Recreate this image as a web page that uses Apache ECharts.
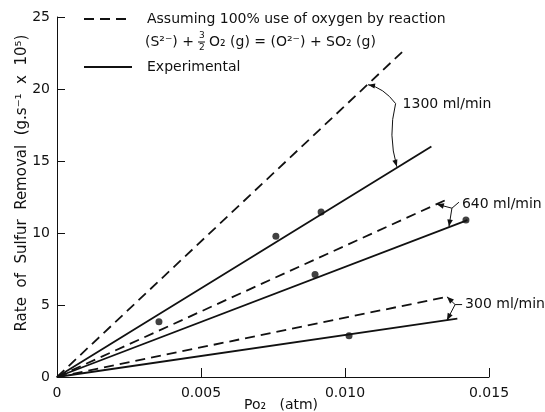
<!DOCTYPE html>
<html>
<head>
<meta charset="utf-8">
<script src="https://cdn.jsdelivr.net/npm/echarts@6/dist/echarts.min.js"></script>
<style>
  html, body { margin: 0; padding: 0; background: #fff; }
  #chart { width: 545px; height: 412px; }
</style>
</head>
<body>
<div id="chart"></div>
<script>
// Sulfur removal rate versus oxygen partial pressure, three gas flow rates.
const xTicks = [0, 0.005, 0.010, 0.015];
const yTicks = [0, 5, 10, 15, 20, 25];

// Theoretical lines (100% use of oxygen), [Po2, rate] end points
const theory1300X = [0, 0.0120];
const theory1300Y = [0, 22.6];
const theory640X = [0, 0.01365];
const theory640Y = [0, 12.43];
const theory300X = [0, 0.01358];
const theory300Y = [0, 5.59];

// Experimental fitted lines
const exp1300X = [0, 0.0130];
const exp1300Y = [0, 16.0];
const exp640X = [0, 0.01425];
const exp640Y = [0, 10.9];
const exp300X = [0, 0.0139];
const exp300Y = [0, 4.05];

// Measured points
const pts1300X = [0.00354, 0.0076, 0.00917];
const pts1300Y = [3.84, 9.78, 11.45];
const pts640X = [0.00896, 0.0142];
const pts640Y = [7.12, 10.9];
const pts300X = [0.01014];
const pts300Y = [2.86];

// Flow-rate callouts: label anchor, theoretical-line target, experimental-line target
const flowLabels = ['1300 ml/min', '640 ml/min', '300 ml/min'];
const labelAt = [[0.0120, 18.92], [0.01406, 12.0], [0.01417, 5.03]];
const theoryTarget = [[0.0108, 20.3], [0.01319, 12.0], [0.01354, 5.57]];
const expTarget = [[0.0118, 14.6], [0.01361, 10.45], [0.01354, 3.94]];

const FONT = 'DejaVu Sans';
const INK = '#111';

const zip = (xs, ys) => xs.map((x, i) => [x, ys[i]]);

function lineSeries(xs, ys, dashed) {
  return {
    type: 'line', data: zip(xs, ys), showSymbol: false, silent: true,
    lineStyle: { color: INK, width: 1.8, type: dashed ? [10, 6] : 'solid' },
    animation: false
  };
}
function pointSeries(xs, ys) {
  return {
    type: 'scatter', data: zip(xs, ys), symbol: 'circle', symbolSize: 7,
    itemStyle: { color: INK }, silent: true, animation: false
  };
}

const chart = echarts.init(document.getElementById('chart'), null, { renderer: 'canvas' });

chart.setOption({
  animation: false,
  backgroundColor: '#fff',
  grid: { left: 57, right: 56, top: 17, bottom: 35, containLabel: false, outerBoundsMode: 'none' },
  xAxis: {
    type: 'value', min: xTicks[0], max: xTicks[xTicks.length - 1], interval: xTicks[1] - xTicks[0],
    axisLine: { show: true, lineStyle: { color: INK, width: 1 } },
    axisTick: { show: true, inside: true, length: 9, lineStyle: { color: INK } },
    splitLine: { show: false },
    axisLabel: {
      color: INK, fontFamily: FONT, fontSize: 14, margin: 9,
      formatter: v => (v === 0 ? '0' : v.toFixed(3))
    },
    name: 'Po\u2082   (atm)', nameLocation: 'middle', nameGap: 21, nameMoveOverlap: false,
    nameTextStyle: { color: INK, fontFamily: FONT, fontSize: 14, padding: [0, 0, 0, 16] }
  },
  yAxis: {
    type: 'value', min: yTicks[0], max: yTicks[yTicks.length - 1], interval: yTicks[1] - yTicks[0],
    axisLine: { show: true, lineStyle: { color: INK, width: 1 } },
    axisTick: { show: true, inside: true, length: 8, lineStyle: { color: INK } },
    splitLine: { show: false },
    axisLabel: { color: INK, fontFamily: FONT, fontSize: 14, margin: 7 }
  },
  series: [
    lineSeries(theory1300X, theory1300Y, true),
    lineSeries(theory640X, theory640Y, true),
    lineSeries(theory300X, theory300Y, true),
    lineSeries(exp1300X, exp1300Y, false),
    lineSeries(exp640X, exp640Y, false),
    lineSeries(exp300X, exp300Y, false),
    pointSeries(pts1300X, pts1300Y),
    pointSeries(pts640X, pts640Y),
    pointSeries(pts300X, pts300Y)
  ]
});

// ---- Overlay: legend, y-axis title and callout arrows ----
const px = p => chart.convertToPixel({ gridIndex: 0 }, p);

function arrowHead(tip, from, len, half) {
  const dx = tip[0] - from[0], dy = tip[1] - from[1];
  const d = Math.hypot(dx, dy) || 1;
  const ux = dx / d, uy = dy / d, nx = -uy, ny = ux;
  const bx = tip[0] - ux * len, by = tip[1] - uy * len;
  return {
    type: 'polygon', silent: true,
    shape: { points: [tip, [bx + nx * half, by + ny * half], [bx - nx * half, by - ny * half]] },
    style: { fill: INK }
  };
}
const thin = { stroke: INK, lineWidth: 1, fill: null };

function text(x, y, str, size, extra) {
  return {
    type: 'text', x: x, y: y, silent: true,
    style: Object.assign({ text: str, fill: INK, font: size + 'px "' + FONT + '"', textVerticalAlign: 'middle' }, extra || {})
  };
}

const g = [];

// legend
g.push({ type: 'line', silent: true, shape: { x1: 84, y1: 19, x2: 132, y2: 19 }, style: { stroke: INK, lineWidth: 1.8, lineDash: [10, 6] } });
g.push(text(147, 19, 'Assuming 100% use of oxygen by reaction', 14));
g.push(text(145, 42, '(S\u00b2\u207b) +', 14));
g.push(text(199, 36, '3', 9));
g.push({ type: 'line', silent: true, shape: { x1: 198, y1: 42, x2: 205, y2: 42 }, style: { stroke: INK, lineWidth: 1 } });
g.push(text(199, 48, '2', 9));
g.push(text(209, 42, 'O\u2082 (g) = (O\u00b2\u207b) + SO\u2082 (g)', 14));
g.push({ type: 'line', silent: true, shape: { x1: 84, y1: 67, x2: 132, y2: 67 }, style: { stroke: INK, lineWidth: 1.8 } });
g.push(text(147, 67, 'Experimental', 14));

// y-axis title
g.push({
  type: 'text', x: 22, y: 183, rotation: Math.PI / 2, silent: true,
  style: {
    text: 'Rate  of  Sulfur  Removal  (g.s\u207b\u00b9  x  10\u2075)', fill: INK,
    font: '15px "' + FONT + '"', textAlign: 'center', textVerticalAlign: 'middle'
  }
});

// callouts
flowLabels.forEach((label, i) => {
  const L = px(labelAt[i]);
  const T1 = px(theoryTarget[i]);
  const T2 = px(expTarget[i]);
  g.push(text(L[0], L[1], label, 14));
  if (i === 0) {
    const S = [L[0] - 7, L[1] - 1];
    const c1 = [S[0] - 12, T1[1] + 3];
    const c2 = [S[0] - 8, (S[1] + T2[1]) / 2];
    g.push({ type: 'bezierCurve', silent: true, shape: { x1: S[0], y1: S[1], x2: T1[0], y2: T1[1], cpx1: c1[0], cpy1: c1[1] }, style: thin });
    g.push({ type: 'bezierCurve', silent: true, shape: { x1: S[0], y1: S[1], x2: T2[0], y2: T2[1], cpx1: c2[0], cpy1: c2[1] }, style: thin });
    g.push(arrowHead(T1, c1, 7, 2.6));
    g.push(arrowHead(T2, c2, 7, 2.6));
  } else if (i === 1) {
    const S = [L[0] - 3, L[1] - 2];
    const K = [L[0] - 10, L[1] + 4];
    g.push({ type: 'polyline', silent: true, shape: { points: [S, K, T1] }, style: thin });
    g.push({ type: 'polyline', silent: true, shape: { points: [K, T2] }, style: thin });
    g.push(arrowHead(T1, K, 7, 2.8));
    g.push(arrowHead(T2, K, 7, 2.8));
  } else {
    const S = [L[0] - 3, L[1]];
    const K = [L[0] - 10, L[1]];
    g.push({ type: 'polyline', silent: true, shape: { points: [S, K, T1] }, style: thin });
    g.push({ type: 'polyline', silent: true, shape: { points: [K, T2] }, style: thin });
    g.push(arrowHead(T1, K, 7, 2.8));
    g.push(arrowHead(T2, K, 7, 2.8));
  }
});

chart.setOption({ graphic: { elements: g } });
</script>
</body>
</html>
